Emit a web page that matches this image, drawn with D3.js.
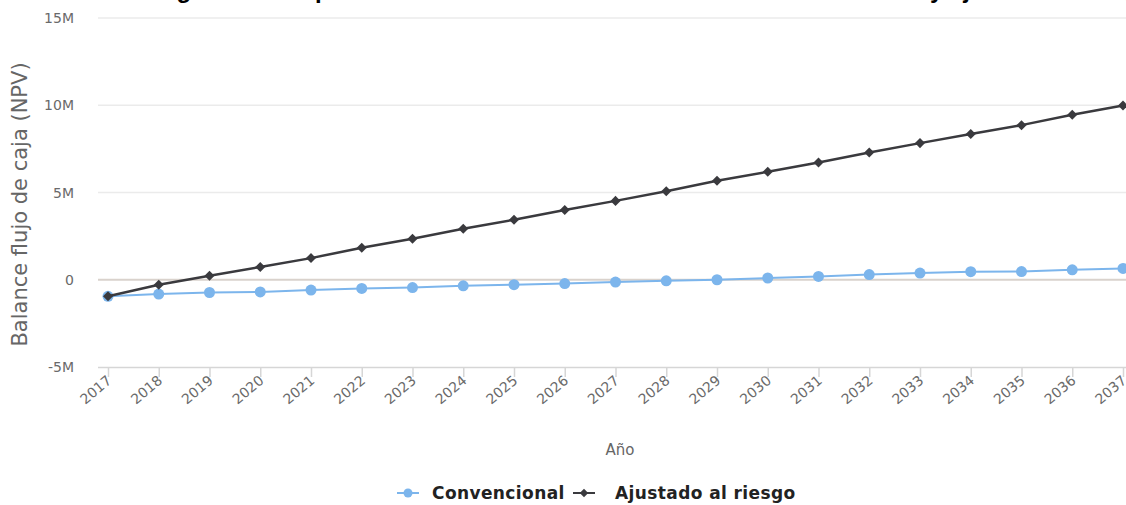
<!DOCTYPE html>
<html>
<head>
<meta charset="utf-8">
<script src="https://cdn.jsdelivr.net/npm/d3@7"></script>
<style>
  html, body { margin: 0; padding: 0; background: #fff; }
  svg { display: block; }
</style>
</head>
<body>
<svg id="chart" width="1126" height="505"></svg>
<script>
// Years on the horizontal axis
const years = ["2017","2018","2019","2020","2021","2022","2023","2024","2025","2026",
               "2027","2028","2029","2030","2031","2032","2033","2034","2035","2036","2037"];

// Cash-flow balance (NPV) per year, in currency units
const convencional = [-950000, -820000, -730000, -700000, -590000, -500000, -450000, -350000,
                      -280000, -220000, -130000, -60000, 0, 100000, 190000, 300000, 380000,
                      460000, 470000, 570000, 650000];
const ajustado = [-950000, -290000, 230000, 730000, 1240000, 1830000, 2350000, 2920000,
                  3440000, 4000000, 4520000, 5070000, 5670000, 6190000, 6720000, 7290000,
                  7830000, 8350000, 8860000, 9450000, 9980000];

const yTicks = [-5000000, 0, 5000000, 10000000, 15000000];
const yTickLabels = ["-5M", "0", "5M", "10M", "15M"];

const seriesNames = ["Convencional", "Ajustado al riesgo"];
const titleText = "Figura 4. Comparación del balance entre el escenario convencional y ajustado al riesgo";

const svg = d3.select("#chart");
const W = 1126, H = 505;
const plotLeft = 98, plotRight = 1126, plotTop = 18, plotBottom = 367;

const x = d3.scalePoint().domain(years).range([108, 1123]);
const y = d3.scaleLinear().domain([-5000000, 15000000]).range([plotBottom, plotTop]);

// Chart title, running above the top edge of the page (only descenders show);
// it is placed so that its closing words sit over the right part of the plot
const title = svg.append("text")
  .attr("x", 0).attr("y", -2)
  .attr("text-anchor", "start")
  .attr("font-family", "Liberation Sans, Arial, sans-serif")
  .attr("font-weight", "bold")
  .attr("font-size", 24)
  .attr("fill", "#000")
  .text(titleText);
const tail = titleText.indexOf(" y ajustado") + 1;
const shift = 930 - title.node().getSubStringLength(0, tail);
title.attr("x", shift);

// Horizontal grid lines
svg.append("g").selectAll("line")
  .data(yTicks.filter(d => d > -5000000))
  .join("line")
  .attr("x1", plotLeft).attr("x2", plotRight)
  .attr("y1", d => y(d)).attr("y2", d => y(d))
  .attr("stroke", d => d === 0 ? "#d9d2cc" : "#ebebeb")
  .attr("stroke-width", d => d === 0 ? 2 : 1.5);

// Y-axis tick labels
svg.append("g").selectAll("text")
  .data(yTicks)
  .join("text")
  .attr("x", 74)
  .attr("y", d => y(d) + 5)
  .attr("text-anchor", "end")
  .attr("font-family", "DejaVu Sans, sans-serif")
  .attr("font-size", 14)
  .attr("fill", "#6a6a6a")
  .text((d, i) => yTickLabels[i]);

// Y-axis title
svg.append("text")
  .attr("transform", `translate(27,${(plotTop + plotBottom) / 2 + 12}) rotate(-90)`)
  .attr("text-anchor", "middle")
  .attr("font-family", "DejaVu Sans, sans-serif")
  .attr("font-size", 21)
  .attr("fill", "#666")
  .text("Balance flujo de caja (NPV)");

// X axis line, ticks and rotated labels
const xAxis = d3.axisBottom(x).tickSize(10).tickPadding(6);
const gx = svg.append("g")
  .attr("transform", `translate(0,${plotBottom})`)
  .call(xAxis);
gx.select(".domain").attr("d", `M${plotLeft},0.5H${plotRight}`).attr("stroke", "#d6d6d6").attr("stroke-width", 1.5);
gx.selectAll(".tick line").attr("stroke", "#d6d6d6").attr("stroke-width", 1.5);
gx.selectAll(".tick text")
  .attr("font-family", "DejaVu Sans, sans-serif")
  .attr("font-size", 14)
  .attr("fill", "#6a6a6a")
  .attr("text-anchor", "end")
  .attr("dy", null)
  .attr("y", 0)
  .attr("transform", "translate(4,15) rotate(-40)");

// X-axis title
svg.append("text")
  .attr("x", 620).attr("y", 455)
  .attr("text-anchor", "middle")
  .attr("font-family", "DejaVu Sans, sans-serif")
  .attr("font-size", 15)
  .attr("fill", "#666")
  .text("Año");

const line = d3.line().x((d, i) => x(years[i])).y(d => y(d));

// Convencional series
svg.append("path")
  .datum(convencional)
  .attr("d", line)
  .attr("fill", "none")
  .attr("stroke", "#7cb5ec")
  .attr("stroke-width", 2);
svg.append("g").selectAll("circle")
  .data(convencional)
  .join("circle")
  .attr("cx", (d, i) => x(years[i]))
  .attr("cy", d => y(d))
  .attr("r", 5.5)
  .attr("fill", "#7cb5ec");

// Ajustado al riesgo series
const diamond = d3.symbol().type(d3.symbolDiamond2).size(64);
svg.append("path")
  .datum(ajustado)
  .attr("d", line)
  .attr("fill", "none")
  .attr("stroke", "#3a3a3e")
  .attr("stroke-width", 2.5);
svg.append("g").selectAll("path")
  .data(ajustado)
  .join("path")
  .attr("d", diamond)
  .attr("transform", (d, i) => `translate(${x(years[i])},${y(d)})`)
  .attr("fill", "#3a3a3e");

// Legend
const legend = svg.append("g");
const legendItems = [
  { name: seriesNames[0], color: "#7cb5ec", sym: "circle", lx: 397, tx: 432 },
  { name: seriesNames[1], color: "#3a3a3e", sym: "diamond", lx: 573, tx: 615 }
];
legendItems.forEach(it => {
  const g = legend.append("g");
  g.append("line")
    .attr("x1", it.lx).attr("x2", it.lx + 22)
    .attr("y1", 493).attr("y2", 493)
    .attr("stroke", it.color).attr("stroke-width", 2);
  if (it.sym === "circle") {
    g.append("circle").attr("cx", it.lx + 11).attr("cy", 493).attr("r", 4.5).attr("fill", it.color);
  } else {
    g.append("path").attr("d", d3.symbol().type(d3.symbolDiamond2).size(45))
      .attr("transform", `translate(${it.lx + 11},493)`).attr("fill", it.color);
  }
  g.append("text")
    .attr("x", it.tx).attr("y", 499)
    .attr("font-family", "DejaVu Sans, sans-serif")
    .attr("font-weight", "bold")
    .attr("font-size", 17)
    .attr("letter-spacing", 0.4)
    .attr("fill", "#222")
    .text(it.name);
});
</script>
</body>
</html>
